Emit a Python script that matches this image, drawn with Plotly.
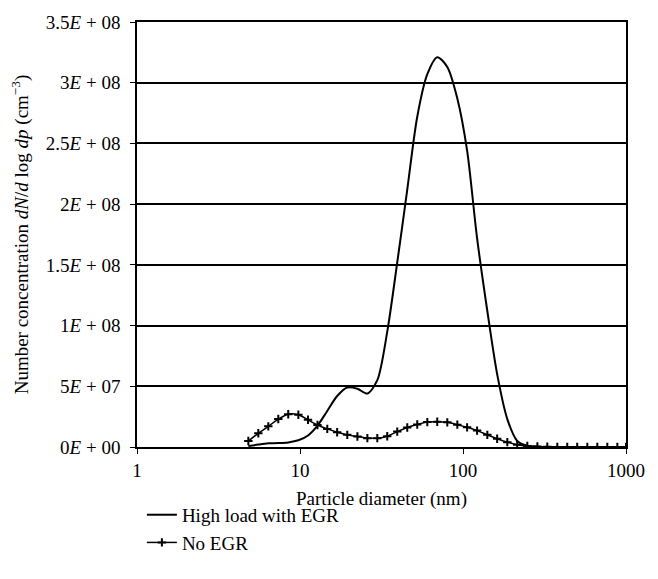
import plotly.graph_objects as go

# Particle diameters (nm) of the measured size channels
diam = [4.82, 5.55, 6.39, 7.36, 8.47, 9.77, 11.2, 12.8, 14.7, 16.9, 19.5, 22.5,
        25.9, 29.8, 34.3, 39.5, 45.5, 52.4, 60.4, 69.5, 80.1, 92.3, 106, 122,
        141, 162, 187, 215, 248, 286, 329, 379, 436, 502, 579, 667, 768, 885, 1000]

# High load with EGR
egr = [8e5, 2e6, 3e6, 3.2e6, 3.8e6, 5.5e6, 9.5e6, 1.76e7, 2.97e7, 4.2e7, 4.9e7, 4.8e7,
       4.4e7, 5.5e7, 9.5e7, 1.52e8, 2.12e8, 2.72e8, 3.07e8, 3.21e8, 3.13e8, 2.87e8, 2.44e8, 1.72e8,
       1.12e8, 6.0e7, 2.3e7, 5e6, 1e6, 2e5, 0, 0, 0, 0, 0, 0, 0, 0, 0]

# No EGR
no_egr = [4.9e6, 1.13e7, 1.7e7, 2.3e7, 2.7e7, 2.65e7, 2.24e7, 1.81e7, 1.49e7, 1.22e7, 1.0e7, 8.7e6,
          7.3e6, 7.3e6, 8.9e6, 1.27e7, 1.6e7, 1.85e7, 2.05e7, 2.08e7, 2.03e7, 1.84e7, 1.62e7, 1.35e7,
          1.0e7, 6.8e6, 4.0e6, 1.9e6, 8e5, 4e5, 2e5, 1e5, 1e5, 5e4, 5e4, 5e4, 5e4, 5e4, 5e4]

y_ticks = [0, 5e7, 1e8, 1.5e8, 2e8, 2.5e8, 3e8, 3.5e8]
y_labels = ["0<i>E</i> + 00", "5<i>E</i> + 07", "1<i>E</i> + 08", "1.5<i>E</i> + 08",
            "2<i>E</i> + 08", "2.5<i>E</i> + 08", "3<i>E</i> + 08", "3.5<i>E</i> + 08"]
x_ticks = [1, 10, 100, 1000]
x_labels = ["1", "10", "100", "1000"]

FONT = "Liberation Serif"
FS = 19

fig = go.Figure()
fig.add_trace(go.Scatter(x=diam, y=egr, mode="lines", name="High load with EGR",
                         line=dict(color="black", width=2, shape="spline", smoothing=0.8)))
fig.add_trace(go.Scatter(x=diam, y=no_egr, mode="lines+markers", name="No EGR",
                         line=dict(color="black", width=1.5, shape="spline", smoothing=0.8),
                         marker=dict(symbol="cross-thin", size=6, color="black",
                                     line=dict(color="black", width=2))))

fig.update_layout(
    width=658, height=579,
    margin=dict(l=137, r=32, t=15, b=132),
    paper_bgcolor="white", plot_bgcolor="white",
    font=dict(family=FONT, size=FS, color="black"),
    showlegend=True,
    legend=dict(x=0.01, y=-0.115, xanchor="left", yanchor="top",
                font=dict(family=FONT, size=FS, color="black"),
                bgcolor="rgba(0,0,0,0)", tracegroupgap=0, itemwidth=30),
)
fig.update_xaxes(type="log", range=[0, 3], tickvals=x_ticks, ticktext=x_labels,
                 showgrid=False, showline=True, linecolor="black", linewidth=1.5,
                 mirror=True, ticks="outside", ticklen=5, tickwidth=1.2, tickcolor="black",
                 tickfont=dict(family=FONT, size=FS, color="black"),
                 title=dict(text="Particle diameter (nm)", standoff=12,
                            font=dict(family=FONT, size=FS, color="black")),
                 zeroline=False)
fig.update_yaxes(range=[0, 3.5e8], tickvals=y_ticks, ticktext=y_labels,
                 showgrid=True, gridcolor="black", gridwidth=1.5,
                 showline=True, linecolor="black", linewidth=1.5, mirror=True,
                 ticks="outside", ticklen=5, tickwidth=1.2, tickcolor="black",
                 ticklabelstandoff=6,
                 tickfont=dict(family=FONT, size=FS, color="black"),
                 title=dict(text="Number concentration <i>dN</i>/<i>d</i> log <i>dp</i> (cm<sup>−3</sup>)",
                            standoff=12, font=dict(family=FONT, size=FS, color="black")),
                 zeroline=False)

fig.write_html("out.html")
